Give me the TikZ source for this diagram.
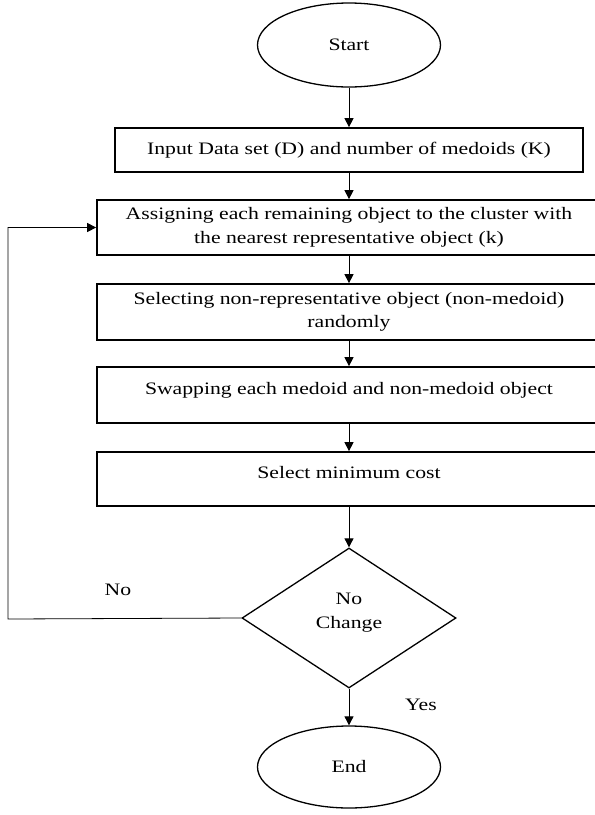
\documentclass[tikz,border=0pt]{standalone}
\usepackage{fontspec}
\setmainfont{Liberation Serif}[FakeStretch=1.24]
\usetikzlibrary{arrows.meta,positioning,shapes.geometric}
\tikzset{
  terminal/.style={ellipse,draw,line width=1.3pt,minimum width=183pt,minimum height=84pt,inner sep=0pt},
  stepbox/.style={rectangle,draw,line width=1.7pt,minimum width=504pt,align=center,inner sep=0pt},
  decision/.style={diamond,draw,line width=1.3pt,minimum width=214pt,minimum height=140pt,aspect=1.53,inner sep=0pt,align=center},
  flow/.style={line width=0.8pt,-{Triangle[length=9pt,width=9pt]}},
  lbl/.style={inner sep=0pt},
}
\begin{document}
\begin{tikzpicture}[x=1pt,y=-1pt,font=\fontsize{17.5}{23.5}\selectfont]
    \useasboundingbox (0,0) rectangle (595,815);
    \clip (0,0) rectangle (595,815);
    % ---------------- terminals ----------------
    \node[terminal] (start) at (349,45) {Start};
    \node[terminal,minimum height=82pt] (stop) at (349,767) {End};
    % ---------------- process steps ----------------
    \node[stepbox,minimum width=468pt,minimum height=44pt] (input) at (349,150)
      {Input Data set (D) and number of medoids (K)};
    \node[stepbox,minimum height=55pt] (assign) at (349,227.5)
      {Assigning each remaining object to the cluster with\\ the nearest representative object (k)};
    \node[stepbox,minimum height=56pt] (select) at (349,312)
      {Selecting non-representative object (non-medoid)\\ randomly};
    \node[stepbox,minimum height=56pt,text depth=14pt] (swap) at (349,395)
      {Swapping each medoid and non-medoid object};
    \node[stepbox,minimum height=54pt,text depth=14pt] (mincost) at (349,479)
      {Select minimum cost};
    % ---------------- decision ----------------
    \node[decision,text depth=14pt] (change) at (349,618) {No\\ Change};
    \coordinate (back) at (8,619);
    % ---------------- connectors ----------------
    \draw[flow] (start) -- (input);
    \draw[flow] (input) -- (assign);
    \draw[flow] (assign) -- (select);
    \draw[flow] (select) -- (swap);
    \draw[flow] (swap) -- (mincost);
    \draw[flow] (mincost) -- (change);
    \draw[flow] (change) -- (stop);
    \draw[flow] (change.west) -- (back) |- (assign.west);
    \node[lbl] (no) at (118,590) {No};
    \node[lbl] (yes) at (421,705) {Yes};
\end{tikzpicture}
\end{document}
